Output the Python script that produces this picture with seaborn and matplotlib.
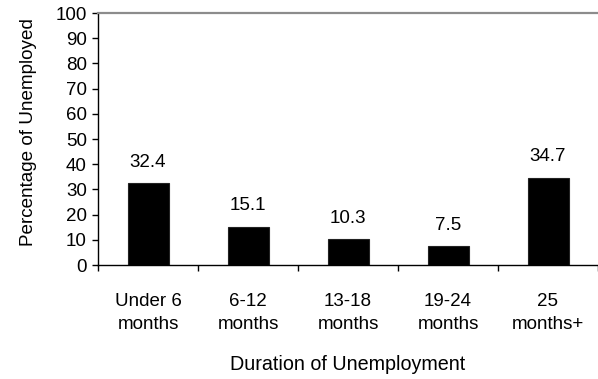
import matplotlib
matplotlib.use("Agg")
import matplotlib.pyplot as plt
import seaborn as sns
import pandas as pd
import numpy as np

# Share of the unemployed by how long they have been out of work
durations = ["Under 6\nmonths", "6-12\nmonths", "13-18\nmonths", "19-24\nmonths", "25\nmonths+"]
percentages = [32.4, 15.1, 10.3, 7.5, 34.7]
y_ticks = [0, 10, 20, 30, 40, 50, 60, 70, 80, 90, 100]

df = pd.DataFrame({"duration": durations, "pct": percentages})

sns.set_theme(style="white")
plt.rcParams["font.family"] = ["Liberation Sans", "DejaVu Sans"]

FS = 13.5

fig = plt.figure(figsize=(5.98, 3.79), dpi=100)
ax = fig.add_axes([98 / 598, 1 - 265 / 379, 500 / 598, 252 / 379])

sns.barplot(data=df, x="duration", y="pct", color="black", width=0.41,
            edgecolor="#222222", linewidth=0.8, saturation=1, ax=ax)

ax.set_xlim(-0.5, len(durations) - 0.5)
ax.set_ylim(0, 100)
ax.set_yticks(y_ticks)
ax.tick_params(axis="y", which="major", direction="out", length=4, width=1,
               color="black", pad=4, labelsize=FS, left=True, labelcolor="black")

# Category labels centred under bars, tick marks between categories
ax.set_xticks(range(len(durations)))
ax.set_xticklabels(durations, fontsize=FS, linespacing=1.5, color="black")
ax.tick_params(axis="x", which="major", length=0, pad=20)
ax.set_xticks(np.arange(-0.5, len(durations) + 0.5, 1), minor=True)
ax.tick_params(axis="x", which="minor", direction="out", length=4.5, width=1,
               color="black", bottom=True)

for side in ["left", "bottom"]:
    ax.spines[side].set_color("black")
    ax.spines[side].set_linewidth(1.0)
ax.spines["top"].set_color("#8c8c8c")
ax.spines["top"].set_linewidth(1.6)
ax.spines["right"].set_visible(False)

ax.set_ylabel("Percentage of Unemployed", fontsize=13.6, color="black")
ax.yaxis.set_label_coords(-0.122, 0.528)
ax.set_xlabel("Duration of Unemployment", fontsize=14.2, color="black", labelpad=16)

for container in ax.containers:
    ax.bar_label(container, labels=[f"{v:.1f}" for v in percentages],
                 padding=9, fontsize=FS, color="black")

fig.savefig("out.png", dpi=100)
